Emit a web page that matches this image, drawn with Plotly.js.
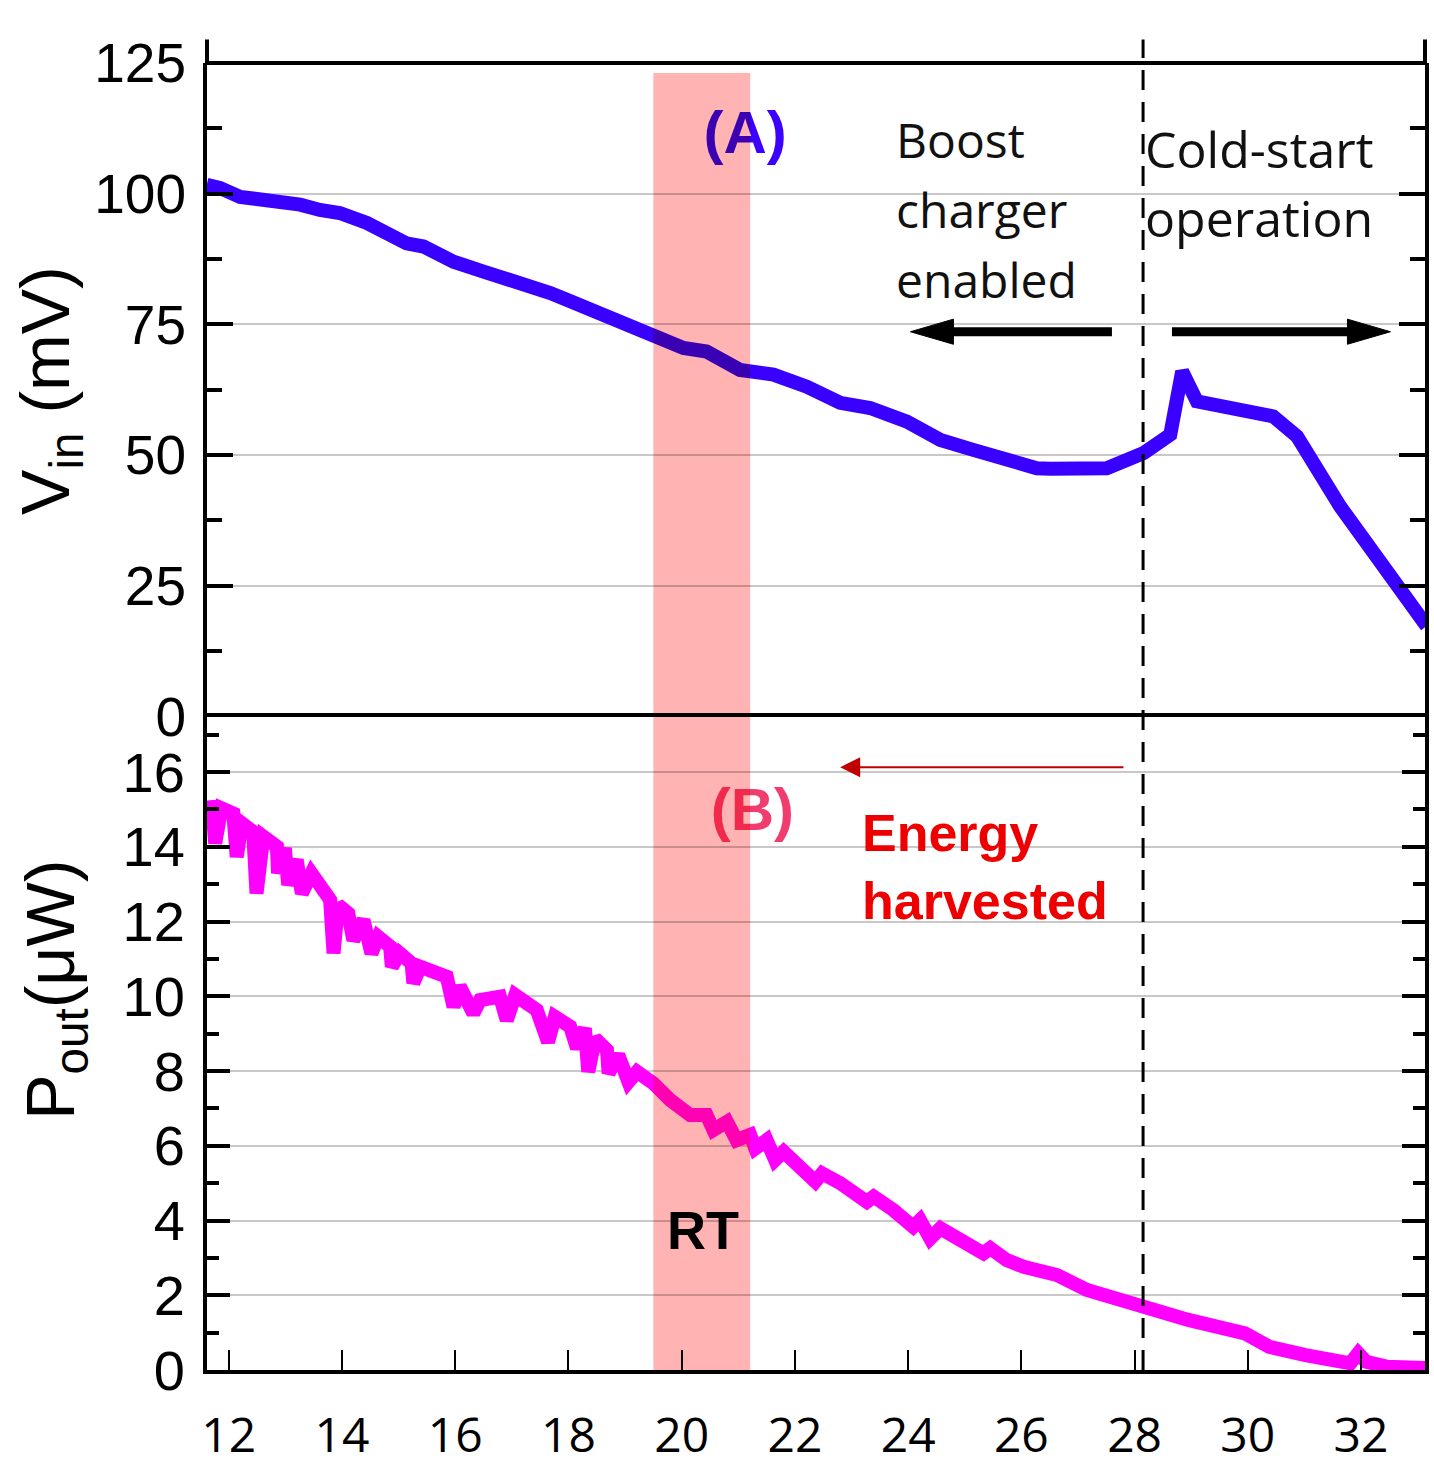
<!DOCTYPE html>
<html>
<head>
<meta charset="utf-8">
<script src="https://cdn.plot.ly/plotly-3.0.1.min.js"></script>
<style>
html,body{margin:0;padding:0;background:#fff;}
#chart{width:1434px;height:1467px;}
</style>
</head>
<body>
<div id="chart"></div>
<script>
// ---- Data ----
// Time axis ticks
const xTicks = [12, 14, 16, 18, 20, 22, 24, 26, 28, 30, 32];

// Panel A: input voltage V_in (mV)
const xVin = [11.61, 11.84, 12.20, 12.67, 13.26, 13.61, 13.96, 14.44, 14.67, 14.97,
  15.14, 15.44, 15.61, 15.97, 16.50, 16.79, 17.14, 17.68, 17.97, 18.32,
  18.85, 19.15, 19.44, 19.62, 20.03, 20.44, 21.03, 21.62, 22.21, 22.80,
  23.33, 23.98, 24.57, 25.15, 25.74, 26.27, 26.51, 27.51, 28.16, 28.63,
  28.84, 29.10, 30.45, 30.87, 31.63, 32.40, 33.16];
const vin = [101.7, 101.1, 99.4, 98.8, 97.9, 96.9, 96.3, 94.4, 93.1, 90.8,
  90.5, 89.9, 88.9, 87.0, 85.1, 84.2, 82.6, 81.0, 79.7, 78.1,
  76.2, 74.9, 73.6, 72.7, 70.5, 69.8, 66.3, 65.4, 63.1, 60.0,
  59.0, 56.4, 52.9, 51.0, 49.1, 47.5, 47.4, 47.5, 50.4, 53.9,
  66.0, 60.3, 57.4, 53.6, 40.2, 28.7, 17.3];

// Panel B: output power P_out (uW)
const xPout = [11.70, 11.76, 11.87, 12.08, 12.14, 12.23, 12.43, 12.49, 12.61, 12.85,
  12.87, 12.99, 13.05, 13.20, 13.29, 13.46, 13.79, 13.85, 13.93, 14.11,
  14.20, 14.38, 14.52, 14.64, 14.85, 14.88, 15.02, 15.23, 15.26, 15.38,
  15.85, 15.97, 16.08, 16.32, 16.44, 16.79, 16.91, 17.06, 17.44, 17.64,
  17.76, 18.03, 18.15, 18.29, 18.35, 18.47, 18.68, 18.71, 18.88, 19.06,
  19.21, 19.38, 19.50, 19.80, 20.15, 20.44, 20.56, 20.80, 20.97, 21.21,
  21.30, 21.50, 21.65, 21.80, 22.15, 22.36, 22.48, 22.80, 23.27, 23.39,
  23.74, 24.09, 24.21, 24.39, 24.57, 24.98, 25.33, 25.45, 25.74, 26.04,
  26.63, 27.16, 27.63, 28.10, 28.95, 29.95, 30.38, 31.02, 31.81, 31.95,
  32.09, 32.45, 33.13];
const pout = [15.25, 14.09, 15.03, 14.89, 13.73, 14.63, 14.40, 12.75, 14.27, 14.00,
  13.29, 13.96, 12.98, 13.65, 12.75, 13.29, 12.58, 11.15, 12.44, 12.22,
  11.50, 12.04, 11.15, 11.59, 11.33, 10.79, 11.15, 10.88, 10.35, 10.79,
  10.52, 9.72, 10.26, 9.54, 9.90, 9.99, 9.36, 10.03, 9.63, 8.78,
  9.45, 9.19, 8.61, 9.14, 7.98, 8.87, 8.56, 7.94, 8.43, 7.71,
  7.98, 7.85, 7.67, 7.22, 6.82, 6.82, 6.42, 6.64, 6.15, 6.29,
  5.93, 6.15, 5.62, 5.84, 5.40, 5.04, 5.26, 5.00, 4.50, 4.64,
  4.28, 3.83, 4.01, 3.52, 3.79, 3.43, 3.12, 3.26, 2.94, 2.76,
  2.54, 2.14, 1.92, 1.74, 1.34, 0.98, 0.62, 0.40, 0.18, 0.45,
  0.22, 0.09, 0.05];

// Reference marks
const rtBand = [19.50, 21.21];     // RT region (x)
const coldStartX = 28.15;           // boundary between modes
const vinRange = [0, 125];
const poutRange = [0, 17.485];
const xRange = [11.615, 33.13];

// Text labels
const panelLabels = {A: '<b>(A)</b>', B: '<b>(B)</b>'};

// ---- Traces ----
const traces = [
  {x: xVin, y: vin, xaxis: 'x', yaxis: 'y', mode: 'lines',
   line: {color: '#3a00ff', width: 14}, hoverinfo: 'skip', showlegend: false},
  {x: xPout, y: pout, xaxis: 'x', yaxis: 'y2', mode: 'lines',
   line: {color: '#ff00ff', width: 14}, hoverinfo: 'skip', showlegend: false},
  {x: [21.12], y: [110.6], xaxis: 'x', yaxis: 'y', mode: 'text', text: [panelLabels.A],
   textposition: 'middle center', cliponaxis: false,
   textfont: {family: 'Liberation Sans, Arial, sans-serif', size: 60, color: '#3c00ff'},
   hoverinfo: 'skip', showlegend: false},
  {x: [21.25], y: [14.85], xaxis: 'x', yaxis: 'y2', mode: 'text', text: [panelLabels.B],
   textposition: 'middle center', cliponaxis: false,
   textfont: {family: 'Liberation Sans, Arial, sans-serif', size: 60, color: '#f03c6e'},
   hoverinfo: 'skip', showlegend: false}
];

const calib = 'Open Sans, Noto Sans, sans-serif';
const arial = 'Liberation Sans, Arial, sans-serif';

const layout = {
  width: 1434, height: 1467,
  margin: {l: 207, r: 9, t: 63, b: 97},
  paper_bgcolor: '#fff', plot_bgcolor: '#fff',
  showlegend: false,
  xaxis: {
    range: xRange, anchor: 'y2', tickvals: xTicks,
    ticks: 'inside', ticklen: 20, tickwidth: 2, tickcolor: '#000',
    showline: true, linewidth: 4, linecolor: '#000', mirror: true,
    showgrid: false, zeroline: false,
    tickfont: {family: calib, size: 48, color: '#000'},
    ticklabelstandoff: 20
  },
  yaxis: {
    domain: [0.5, 1], range: vinRange, anchor: 'x', tick0: 0, dtick: 25,
    ticks: 'inside', ticklen: 26, tickwidth: 4, tickcolor: '#000',
    minor: {dtick: 12.5, ticks: 'inside', ticklen: 15, tickwidth: 4, tickcolor: '#000', showgrid: false},
    showline: true, linewidth: 4, linecolor: '#000', mirror: 'ticks',
    showgrid: true, gridcolor: '#c8c8c8', gridwidth: 2, zeroline: false,
    tickfont: {family: arial, size: 55, color: '#000'}, ticklabelstandoff: 6
  },
  yaxis2: {
    domain: [0, 0.5], range: poutRange, anchor: 'x', tick0: 0, dtick: 2,
    ticks: 'inside', ticklen: 23, tickwidth: 4, tickcolor: '#000',
    minor: {dtick: 1, ticks: 'inside', ticklen: 12, tickwidth: 4, tickcolor: '#000', showgrid: false},
    showline: true, linewidth: 4, linecolor: '#000', mirror: 'ticks',
    showgrid: true, gridcolor: '#c8c8c8', gridwidth: 2, zeroline: false,
    tickfont: {family: arial, size: 56, color: '#000'}, ticklabelstandoff: 7
  },
  shapes: [
    {type: 'rect', xref: 'x', yref: 'paper', x0: rtBand[0], x1: rtBand[1], y0: 0, y1: 0.9923,
     fillcolor: 'rgba(255,116,116,0.55)', line: {width: 0}, layer: 'above'},
    {type: 'line', xref: 'x', yref: 'paper', x0: coldStartX, x1: coldStartX, y0: 0, y1: 1.018,
     line: {color: '#000', width: 3, dash: '20px,12px'}, layer: 'above'},
    {type: 'line', xref: 'paper', yref: 'paper', x0: 0, x1: 1, y0: 1, y1: 1,
     line: {color: '#000', width: 4}, layer: 'above'},
    {type: 'line', xref: 'paper', yref: 'paper', x0: 0, x1: 0, y0: 1, y1: 1.018,
     line: {color: '#000', width: 4}, layer: 'above'},
    {type: 'line', xref: 'paper', yref: 'paper', x0: 1, x1: 1, y0: 1, y1: 1.018,
     line: {color: '#000', width: 4}, layer: 'above'},
    // left black arrow (boost charger enabled)
    {type: 'line', xref: 'x', yref: 'y', x0: 24.75, x1: 27.60, y0: 73.6, y1: 73.6,
     line: {color: '#000', width: 9}, layer: 'above'},
    {type: 'path', xref: 'x', yref: 'y', path: 'M24.04,73.6 L24.80,76.0 L24.80,71.2 Z',
     fillcolor: '#000', line: {color: '#000', width: 1}, layer: 'above'},
    // right black arrow (cold-start operation)
    {type: 'line', xref: 'x', yref: 'y', x0: 28.66, x1: 31.80, y0: 73.6, y1: 73.6,
     line: {color: '#000', width: 9}, layer: 'above'},
    {type: 'path', xref: 'x', yref: 'y', path: 'M32.52,73.6 L31.76,76.0 L31.76,71.2 Z',
     fillcolor: '#000', line: {color: '#000', width: 1}, layer: 'above'}
  ],
  annotations: [
    {xref: 'paper', yref: 'paper', x: -0.129, y: 0.7498, text: 'V<sub>in</sub> (mV)', textangle: -90,
     showarrow: false, xanchor: 'center', yanchor: 'middle',
     font: {family: arial, size: 68, color: '#000'}},
    {xref: 'paper', yref: 'paper', x: -0.125, y: 0.2907, text: 'P<sub>out</sub>(μW)', textangle: -90,
     showarrow: false, xanchor: 'center', yanchor: 'middle',
     font: {family: arial, size: 68, color: '#000'}},
    {xref: 'x', yref: 'y', x: 23.75, y: 110.4, text: 'Boost', showarrow: false, xanchor: 'left', yanchor: 'middle',
     font: {family: calib, size: 48, color: '#111'}},
    {xref: 'x', yref: 'y', x: 23.75, y: 97.0, text: 'charger', showarrow: false, xanchor: 'left', yanchor: 'middle',
     font: {family: calib, size: 48, color: '#111'}},
    {xref: 'x', yref: 'y', x: 23.75, y: 83.6, text: 'enabled', showarrow: false, xanchor: 'left', yanchor: 'middle',
     font: {family: calib, size: 48, color: '#111'}},
    {xref: 'x', yref: 'y', x: 28.15, y: 108.6, text: 'Cold-start', showarrow: false, xanchor: 'left', yanchor: 'middle',
     font: {family: calib, size: 50, color: '#111'}},
    {xref: 'x', yref: 'y', x: 28.15, y: 95.3, text: 'operation', showarrow: false, xanchor: 'left', yanchor: 'middle',
     font: {family: calib, size: 50, color: '#111'}},
    {xref: 'x', yref: 'y2', x: 23.15, y: 14.38, text: '<b>Energy</b>', showarrow: false, xanchor: 'left', yanchor: 'middle',
     font: {family: arial, size: 52, color: '#ee0000'}},
    {xref: 'x', yref: 'y2', x: 23.15, y: 12.56, text: '<b>harvested</b>', showarrow: false, xanchor: 'left', yanchor: 'middle',
     font: {family: arial, size: 52, color: '#ee0000'}},
    {xref: 'x', yref: 'y2', x: 20.38, y: 3.75, text: '<b>RT</b>', showarrow: false, xanchor: 'center', yanchor: 'middle',
     font: {family: arial, size: 54, color: '#000'}},
    {xref: 'x', yref: 'y2', x: 22.80, y: 16.13, axref: 'x', ayref: 'y2', ax: 27.83, ay: 16.13,
     text: '', showarrow: true, arrowhead: 2, arrowsize: 2, arrowwidth: 2, arrowcolor: '#c00000'}
  ]
};

Plotly.newPlot('chart', traces, layout, {displayModeBar: false, staticPlot: true}).then(function (gd) {
  // let the RT band tint what lies under it (multiply), as in the reference
  var above = gd.querySelector('.layer-above');
  if (above) {
    above.style.mixBlendMode = 'multiply';
    var sl = above.querySelector('.shapelayer');
    if (sl) sl.style.mixBlendMode = 'multiply';
    var band = above.querySelector('.shapelayer path');
    if (band) band.style.mixBlendMode = 'multiply';
  }
});
</script>
</body>
</html>
